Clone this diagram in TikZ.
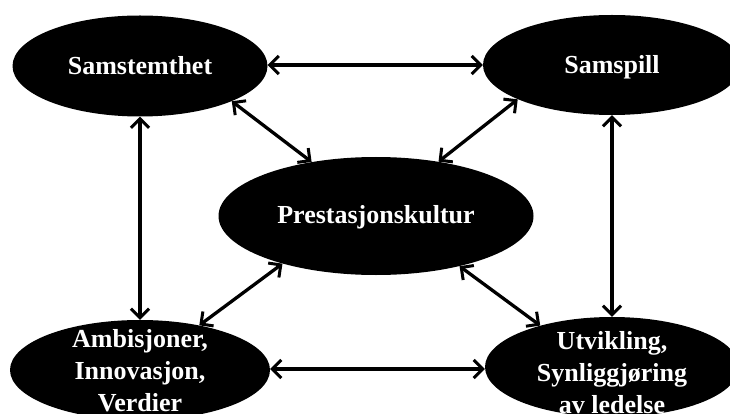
\documentclass[tikz,border=0pt]{standalone}
\usepackage{fontspec}
\setmainfont{Liberation Serif}
\usetikzlibrary{shapes.geometric,arrows.meta}
\begin{document}
\begin{tikzpicture}[x=1pt,y=-1pt,
  blob/.style={ellipse,fill=black,draw=none,inner sep=0pt},
  txt/.style={text=white,font=\fontsize{26}{32}\selectfont\bfseries,align=center,inner sep=0pt},
  tip/.tip={Straight Barb[length=9pt,width=18pt,line width=3pt]},
  link/.style={line width=3.3pt,tip-tip}
]
\useasboundingbox (0,0) rectangle (730,414);
\clip (0,0) rectangle (730,414);
\fill[white] (0,0) rectangle (730,414);

% the five ellipses
\node[blob,minimum width=255pt,minimum height=101pt] (sam) at (140,66) {};
\node[blob,minimum width=258pt,minimum height=100pt] (spill) at (612,65) {};
\node[blob,minimum width=315pt,minimum height=118pt] (pres) at (376,216) {};
\node[blob,minimum width=260pt,minimum height=100pt] (amb) at (140,370) {};
\node[blob,minimum width=254pt,minimum height=100pt] (utv) at (612,367) {};

% their labels
\node[txt,anchor=base] (samT) at (140,75) {Samstemthet};
\node[txt,anchor=base] (spillT) at (612,74) {Samspill};
\node[txt,anchor=base] (presT) at (376,223) {Prestasjonskultur};
\node[txt] (ambT) at ([yshift=-1pt]amb) {Ambisjoner,\\Innovasjon,\\Verdier};
\node[txt] (utvT) at ([yshift=-6pt]utv) {Utvikling,\\Synliggjøring\\av ledelse};

% two-way links
\draw[link] (sam.east |- 0,65) -- (spill.west |- 0,65);
\draw[link] (amb.east |- 0,369) -- (utv.west |- 0,369);
\draw[link] (sam.south) -- (amb.north);
\draw[link] (spill.south) -- (utv.north);
\draw[link] (sam.-21.7) -- (pres.140.5);
\draw[link] (spill.200.8) -- (pres.41.2);
\draw[link] (pres.207.8) -- (amb.37.3);
\draw[link] (pres.-31.9) -- (utv.150.8);
\end{tikzpicture}
\end{document}
